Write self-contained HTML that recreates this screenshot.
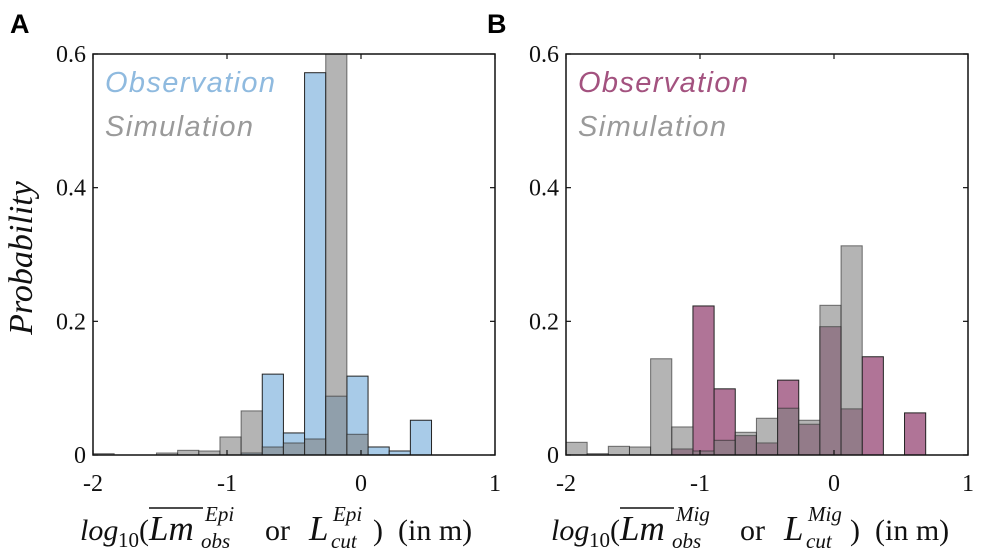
<!DOCTYPE html>
<html><head><meta charset="utf-8"><style>
body{margin:0;background:#fff}
svg{display:block}
.tk{font-family:"Liberation Serif",serif;font-size:24px;fill:#111}
.lab{font-family:"Liberation Serif",serif;font-size:30px;fill:#111}
.big{font-family:"Liberation Serif",serif;font-size:35px;fill:#111}
.sm{font-family:"Liberation Serif",serif;font-size:21px;fill:#111}
.leg{font-family:"Liberation Sans",sans-serif;font-style:italic;font-size:29px}
</style></head><body>
<svg id="c" width="992" height="557" viewBox="0 0 992 557">
<text x="10" y="33" font-family="Liberation Sans,sans-serif" font-weight="bold" font-size="27">A</text>
<text x="487" y="33" font-family="Liberation Sans,sans-serif" font-weight="bold" font-size="27">B</text>
<text transform="translate(32,258) rotate(-90)" text-anchor="middle" font-style="italic" font-family="Liberation Serif,serif" font-size="34" fill="#111">Probability</text>
<g>
<text class="lab" x="80" y="540" font-style="italic">log</text>
<text class="sm" x="118" y="547">10</text>
<text class="lab" x="139" y="540">(</text>
<text class="big" x="149" y="540" font-style="italic">Lm</text>
<line x1="149" x2="203" y1="508" y2="508" stroke="#111" stroke-width="1.5"/>
<text class="sm" x="201" y="548" font-style="italic">obs</text>
<text class="sm" x="205" y="521" font-style="italic">Epi</text>
<text class="lab" x="265" y="540">or</text>
<text class="big" x="309" y="540" font-style="italic">L</text>
<text class="sm" x="331" y="548" font-style="italic">cut</text>
<text class="sm" x="333" y="521" font-style="italic">Epi</text>
<text class="lab" x="373" y="540">)</text>
<text class="lab" x="398" y="540">(in m)</text>
</g>
<g>
<text class="lab" x="551" y="540" font-style="italic">log</text>
<text class="sm" x="589" y="547">10</text>
<text class="lab" x="610" y="540">(</text>
<text class="big" x="620" y="540" font-style="italic">Lm</text>
<line x1="620" x2="674" y1="508" y2="508" stroke="#111" stroke-width="1.5"/>
<text class="sm" x="672" y="548" font-style="italic">obs</text>
<text class="sm" x="676" y="521" font-style="italic">Mig</text>
<text class="lab" x="740" y="540">or</text>
<text class="big" x="784" y="540" font-style="italic">L</text>
<text class="sm" x="806" y="548" font-style="italic">cut</text>
<text class="sm" x="808" y="521" font-style="italic">Mig</text>
<text class="lab" x="850" y="540">)</text>
<text class="lab" x="875" y="540">(in m)</text>
</g>
</svg>
<script>
const binStart = -2, binWidth = 3/19;
const obsA = [0,0,0,0,0,0,0,0.003,0.121,0.033,0.572,0.088,0.118,0.012,0.006,0.052,0,0,0];
const simA = [0.002,0,0,0.003,0.007,0.006,0.027,0.066,0.012,0.018,0.024,0.65,0.031,0,0,0,0,0,0];
const obsB = [0,0,0,0,0,0.009,0.223,0.099,0.029,0.018,0.112,0.046,0.192,0.069,0.147,0,0.063,0,0];
const simB = [0.019,0.002,0.013,0.012,0.144,0.042,0.006,0.022,0.034,0.055,0.070,0.052,0.224,0.313,0,0,0,0,0];
const xTicks = [-2,-1,0,1];
const yTicks = [0,0.2,0.4,0.6];
const yTickLabels = ["0","0.2","0.4","0.6"];
const NS="http://www.w3.org/2000/svg";
const svg=document.getElementById('c');
function el(t,a){const e=document.createElementNS(NS,t);for(const k in a)e.setAttribute(k,a[k]);svg.appendChild(e);return e;}
function panel(id,left,obs,sim,obsFill,obsColor){
  const right=left+402, top=54, bottom=455;
  const X=v=>left+(v+2)/3*402;
  const Y=v=>bottom-Math.min(v,0.62)/0.6*(bottom-top);
  const clip=el('clipPath',{id:'clip'+id});
  const cr=document.createElementNS(NS,'rect');cr.setAttribute('x',left);cr.setAttribute('y',top);cr.setAttribute('width',402);cr.setAttribute('height',bottom-top);clip.appendChild(cr);
  obs.forEach((v,i)=>{if(v<=0)return;const x0=X(binStart+i*binWidth),x1=X(binStart+(i+1)*binWidth);
    const r=el('rect',{x:x0,y:Y(v),width:x1-x0,height:bottom-Y(v),fill:obsFill,stroke:'#222','stroke-width':1,'clip-path':'url(#clip'+id+')'});
    
    });
  sim.forEach((v,i)=>{if(v<=0)return;const x0=X(binStart+i*binWidth),x1=X(binStart+(i+1)*binWidth);
    const r=el('rect',{x:x0,y:Y(v),width:x1-x0,height:bottom-Y(v),fill:'rgba(128,128,128,0.59)',stroke:'rgba(30,30,30,0.6)','stroke-width':1,'clip-path':'url(#clip'+id+')'});
    
    });
  const b=el('rect',{x:left,y:top,width:402,height:bottom-top,fill:'none',stroke:'#111','stroke-width':1.5});
  
  
  xTicks.forEach(v=>{const x=X(v);el('line',{x1:x,x2:x,y1:bottom,y2:bottom-5,stroke:'#111','stroke-width':1.2});el('line',{x1:x,x2:x,y1:top,y2:top+5,stroke:'#111','stroke-width':1.2});
    const t=el('text',{x:x,y:491,'text-anchor':'middle',class:'tk'});t.textContent=(v<0?'-':'')+Math.abs(v);
    
    });
  yTicks.forEach((v,i)=>{const y=Y(v);el('line',{x1:left,x2:left+5,y1:y,y2:y,stroke:'#111','stroke-width':1.2});el('line',{x1:right,x2:right-5,y1:y,y2:y,stroke:'#111','stroke-width':1.2});
    const t=el('text',{x:left-7,y:y+8,'text-anchor':'end',class:'tk'});t.textContent=yTickLabels[i];
    
    });
  const l1=el('text',{x:left+12,y:92,class:'leg',fill:obsColor,textLength:170});l1.textContent='Observation';
  
  
  const l2=el('text',{x:left+12,y:136,class:'leg',fill:'#9a9a9a',textLength:148});l2.textContent='Simulation';
  
  
}
panel('A',93,obsA,simA,'#a8cbe8','#8fbadf');
panel('B',566,obsB,simB,'#b07497','#a3527f');
</script>
</body></html>
